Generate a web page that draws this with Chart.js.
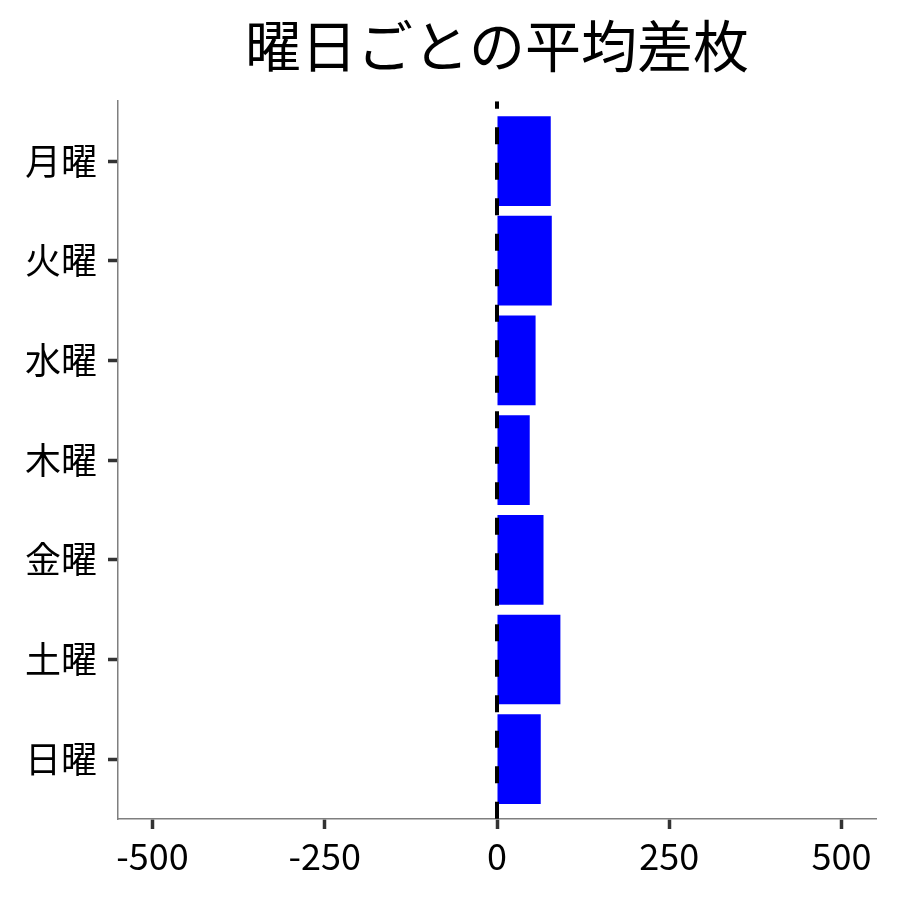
<!DOCTYPE html>
<html>
<head>
<meta charset="utf-8">
<script src="https://cdn.jsdelivr.net/npm/chart.js@4"></script>
<style>
  body { margin: 0; background: #fff; }
</style>
</head>
<body>
<canvas id="dayChart" width="900" height="900"></canvas>
<script>
var days = ['月曜', '火曜', '水曜', '木曜', '金曜', '土曜', '日曜'];
var avgDiff = [78, 79.5, 56, 47.5, 67.5, 92, 63.5];
var xTicks = [-500, -250, 0, 250, 500];

var FONT = '"Noto Sans CJK JP", "Noto Sans", sans-serif';

// dashed reference line at x = 0
var zeroLine = {
    id: 'zeroLine',
    afterDatasetsDraw: function (chart) {
        var ctx = chart.ctx;
        var area = chart.chartArea;
        var x = chart.scales.x.getPixelForValue(0);
        ctx.save();
        ctx.beginPath();
        ctx.rect(area.left, area.top, area.right - area.left, area.bottom - area.top);
        ctx.clip();
        ctx.strokeStyle = '#000';
        ctx.lineWidth = 4;
        ctx.setLineDash([17, 18.5]);
        ctx.lineDashOffset = 9.5;
        ctx.beginPath();
        ctx.moveTo(x, area.top);
        ctx.lineTo(x, area.bottom);
        ctx.stroke();
        ctx.restore();
    }
};

var ctx = document.getElementById('dayChart').getContext('2d');
var chart = new Chart(ctx, {
    type: 'bar',
    data: {
        datasets: [{
            data: avgDiff.map(function (v, i) { return {x: v, y: i}; }),
            backgroundColor: '#0000ff',
            borderWidth: 0,
            barPercentage: 0.9,
            categoryPercentage: 1
        }]
    },
    options: {
        indexAxis: 'y',
        responsive: false,
        animation: false,
        layout: {
            padding: {left: 0, right: 24, top: 0, bottom: 0}
        },
        scales: {
            x: {
                type: 'linear',
                min: -550,
                max: 550,
                afterBuildTicks: function (scale) {
                    scale.ticks = xTicks.map(function (v) { return {value: v}; });
                },
                afterFit: function (scale) {
                    scale.height = 81;
                },
                grid: {
                    drawOnChartArea: false,
                    drawTicks: true,
                    tickLength: 10,
                    tickWidth: 3.5,
                    tickColor: '#333'
                },
                border: {
                    display: true,
                    color: '#7f7f7f',
                    width: 1.5
                },
                ticks: {
                    color: '#000',
                    padding: 6,
                    maxRotation: 0,
                    font: {family: FONT, size: 36}
                }
            },
            y: {
                type: 'linear',
                offset: false,
                min: -0.6,
                max: 6.6,
                reverse: true,
                afterBuildTicks: function (scale) {
                    scale.ticks = days.map(function (d, i) { return {value: i}; });
                },
                afterFit: function (scale) {
                    scale.width = 118;
                },
                grid: {
                    offset: false,
                    drawOnChartArea: false,
                    drawTicks: true,
                    tickLength: 10,
                    tickWidth: 3.5,
                    tickColor: '#333'
                },
                border: {
                    display: true,
                    color: '#7f7f7f',
                    width: 1.5
                },
                ticks: {
                    color: '#000',
                    padding: 11,
                    font: {family: FONT, size: 36},
                    callback: function (value) {
                        return days[value];
                    }
                }
            }
        },
        plugins: {
            legend: {display: false},
            tooltip: {enabled: false},
            title: {
                display: true,
                text: '曜日ごとの平均差枚',
                color: '#000',
                fullSize: false,
                font: {family: FONT, size: 56, weight: 'normal'},
                padding: {top: 12, bottom: 22}
            }
        }
    },
    plugins: [zeroLine]
});
</script>
</body>
</html>
